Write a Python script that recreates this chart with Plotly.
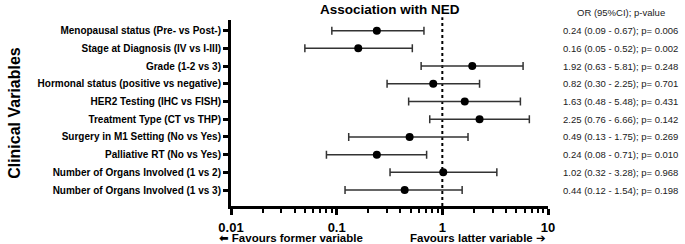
import plotly.graph_objects as go

labels = [
    "Menopausal status (Pre- vs Post-)",
    "Stage at Diagnosis (IV vs I-III)",
    "Grade (1-2 vs 3)",
    "Hormonal status (positive vs negative)",
    "HER2 Testing (IHC vs FISH)",
    "Treatment Type (CT vs THP)",
    "Surgery in M1 Setting (No vs Yes)",
    "Palliative RT (No vs Yes)",
    "Number of Organs Involved (1 vs 2)",
    "Number of Organs Involved (1 vs 3)",
]
odds_ratio = [0.24, 0.16, 1.92, 0.82, 1.63, 2.25, 0.49, 0.24, 1.02, 0.44]
ci_low = [0.09, 0.05, 0.63, 0.30, 0.48, 0.76, 0.13, 0.08, 0.32, 0.12]
ci_high = [0.67, 0.52, 5.81, 2.25, 5.48, 6.66, 1.75, 0.71, 3.28, 1.54]
p_values = ["0.006", "0.002", "0.248", "0.701", "0.431", "0.142", "0.269", "0.010", "0.968", "0.198"]
x_ticks = [0.01, 0.1, 1, 10]
x_tick_text = ["0.01", "0.1", "1", "10"]

rows = list(range(len(labels)))
minor_ticks = [m * d for d in (0.01, 0.1, 1) for m in range(2, 10)]

FONT = "Liberation Sans, Arial, sans-serif"
ARROW = "font-family:'DejaVu Sans'"

fig = go.Figure()
fig.add_trace(go.Scatter(
    x=odds_ratio, y=rows, mode="markers",
    marker=dict(color="black", size=8),
    error_x=dict(type="data", symmetric=False,
                 array=[h - o for h, o in zip(ci_high, odds_ratio)],
                 arrayminus=[o - l for o, l in zip(odds_ratio, ci_low)],
                 color="#333333", thickness=1.5, width=4),
    showlegend=False, hoverinfo="skip", cliponaxis=False,
))

fig.add_shape(type="line", xref="x", yref="paper", x0=1, x1=1, y0=0, y1=1.015,
              line=dict(color="black", width=2, dash="dot"), layer="below")

annotations = []
for i in rows:
    annotations.append(dict(
        xref="paper", yref="y", x=1.04, y=i, xanchor="left", yanchor="middle",
        text=f"{odds_ratio[i]:.2f} ({ci_low[i]:.2f} - {ci_high[i]:.2f}); p= {p_values[i]}",
        showarrow=False, font=dict(family=FONT, size=9.5, color="#222222")))
annotations.append(dict(xref="paper", yref="paper", x=1.085, y=1.043, xanchor="left",
                        yanchor="middle", text="OR (95%CI); p-value", showarrow=False,
                        font=dict(family=FONT, size=9.5, color="#222222")))
annotations.append(dict(xref="paper", yref="paper", x=0.5, y=1.057, xanchor="center",
                        yanchor="middle", text="<b>Association with NED</b>", showarrow=False,
                        font=dict(family=FONT, size=13.5, color="black")))
annotations.append(dict(xref="paper", yref="paper", x=-0.685, y=0.5, xanchor="center",
                        yanchor="middle", textangle=-90, text="<b>Clinical Variables</b>",
                        showarrow=False, font=dict(family=FONT, size=16, color="black")))
annotations.append(dict(xref="paper", yref="paper", x=-0.045, y=-0.17, xanchor="left",
                        yanchor="middle",
                        text=f"<b><span style=\"{ARROW}\">⬅</span> Favours former variable</b>",
                        showarrow=False, font=dict(family=FONT, size=11.5, color="black")))
annotations.append(dict(xref="paper", yref="paper", x=1.0, y=-0.17, xanchor="right",
                        yanchor="middle",
                        text=f"<b>Favours latter variable <span style=\"{ARROW}\">➔</span></b>",
                        showarrow=False, font=dict(family=FONT, size=11.5, color="black")))

fig.update_layout(
    width=685, height=244,
    margin=dict(l=231, r=137, t=20, b=38, autoexpand=False),
    paper_bgcolor="white", plot_bgcolor="white",
    font=dict(family=FONT, color="black"),
    annotations=annotations,
    xaxis=dict(type="log", range=[-2, 1], tickvals=x_ticks, ticktext=x_tick_text,
               automargin=False, ticklabelstandoff=1,
               showgrid=False, zeroline=False, showline=True, linecolor="black", linewidth=3,
               ticks="outside", ticklen=6, tickwidth=3, tickcolor="black",
               tickfont=dict(family=FONT, size=13, color="black", weight="bold"),
               minor=dict(tickvals=minor_ticks, ticks="outside", ticklen=4, tickwidth=2,
                          tickcolor="black", showgrid=False)),
    yaxis=dict(range=[9.9, -0.6], tickvals=rows, ticktext=labels, automargin=False,
               showgrid=False, zeroline=False, showline=True, linecolor="black", linewidth=3,
               ticks="outside", ticklen=5, tickwidth=3, tickcolor="black",
               tickfont=dict(family=FONT, size=10, color="black", weight="bold")),
)

fig.write_html("out.html", config={"displayModeBar": False},
               post_script="document.body.style.margin='0';document.body.style.overflow='hidden';")
